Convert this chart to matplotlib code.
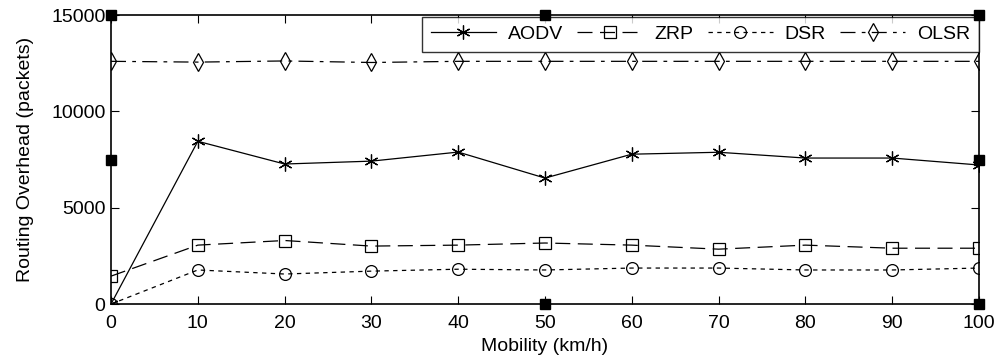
import matplotlib
matplotlib.use("Agg")
import matplotlib.pyplot as plt

mobility = [0, 10, 20, 30, 40, 50, 60, 70, 80, 90, 100]
aodv = [0, 8450, 7270, 7420, 7890, 6540, 7780, 7880, 7580, 7580, 7220]
zrp = [1450, 3060, 3300, 3010, 3060, 3170, 3060, 2850, 3060, 2900, 2900]
dsr = [0, 1770, 1560, 1710, 1810, 1770, 1870, 1870, 1770, 1770, 1870]
olsr = [12600, 12560, 12620, 12540, 12600, 12600, 12600, 12600, 12600, 12600, 12600]

plt.rcParams['font.family'] = ['Liberation Sans', 'DejaVu Sans']
fig = plt.figure(figsize=(10, 3.62), dpi=100)
ax = fig.add_axes([0.111, 0.160, 0.868, 0.7983])

mk = dict(color='black', markerfacecolor='none', markeredgecolor='black', linewidth=0.9, markeredgewidth=0.9)
ax.plot(mobility, aodv, '-', marker=(6, 2, 0), markersize=10, label='AODV', **mk)
ax.plot(mobility, zrp, linestyle=(0, (12, 6)), marker='s', markersize=9, label='ZRP', **mk)
ax.plot(mobility, dsr, linestyle=(0, (3.5, 3.5)), marker='o', markersize=8.5, label='DSR', **mk)
ax.plot(mobility, olsr, linestyle=(0, (12, 5, 3, 5)), marker='d', markersize=9, label='OLSR', **mk)

ax.set_xlim(0, 100)
ax.set_ylim(0, 15000)
ax.set_xticks(mobility)
ax.set_yticks([0, 5000, 10000, 15000])
ax.tick_params(direction='in', top=True, right=True, length=6, labelsize=14)
ax.tick_params(axis='x', pad=8)
ax.tick_params(axis='y', pad=4)
for s in ax.spines.values():
    s.set_linewidth(1.2)
ax.set_xlabel('Mobility (km/h)', fontsize=14, labelpad=4)
ax.set_ylabel('Routing Overhead (packets)', fontsize=14, labelpad=12)

leg = ax.legend(ncol=4, loc='upper right', bbox_to_anchor=(1.0, 0.995), fontsize=14,
                frameon=True, fancybox=False, edgecolor='black', handlelength=3.35,
                columnspacing=0.75, handletextpad=0.6, borderpad=0.45, borderaxespad=0,
                numpoints=1)
leg.get_frame().set_linewidth(1.0)

# selection handles
hx = [0, 0.5, 1, 0, 1, 0.5, 1]
hy = [1, 1, 1, 0.5, 0.5, 0, 0]
ax.plot(hx, hy, 's', color='black', markersize=7, transform=ax.transAxes, clip_on=False, zorder=10)

fig.savefig('out.png', dpi=100)
